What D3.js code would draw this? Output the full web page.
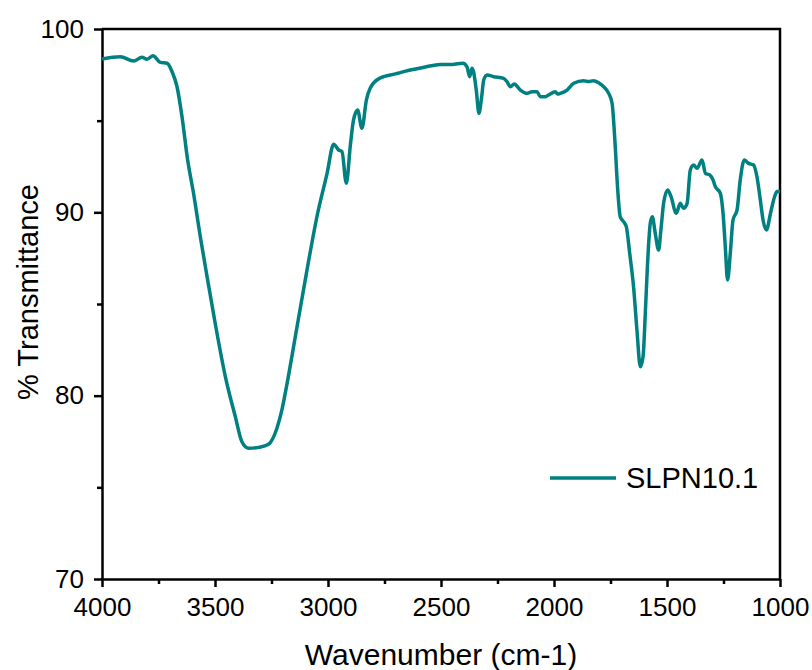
<!DOCTYPE html>
<html>
<head>
    <meta charset="utf-8" />
    <title>% Transmittance vs Wavenumber</title>
    <script src="https://d3js.org/d3.v7.min.js"></script>
    <style>
        body { margin: 0; background: #fff; }
        svg text { font-family: "Liberation Sans", Arial, sans-serif; fill: #000; }
        .axis path, .axis line { stroke: #000; stroke-width: 2.5; }
    </style>
</head>
<body>
    <div id="the-chart"></div>
    <script>
        // wavenumber (cm-1)
        var wavenumber = [4000, 3919, 3860, 3823, 3801, 3774, 3742, 3712, 3690, 3668, 3646, 3621, 3595, 3565, 3535, 3499, 3454, 3410, 3381, 3351, 3307, 3263, 3226, 3204, 3181, 3137, 3093, 3049, 3004, 2975, 2953, 2938, 2919, 2901, 2887, 2869, 2850, 2830, 2813, 2769, 2702, 2636, 2569, 2503, 2451, 2403, 2385, 2373, 2363, 2356, 2344, 2332, 2320, 2311, 2296, 2267, 2223, 2208, 2193, 2176, 2149, 2119, 2097, 2075, 2061, 2038, 2024, 1994, 1984, 1972, 1942, 1913, 1869, 1847, 1825, 1803, 1780, 1758, 1743, 1729, 1719, 1707, 1692, 1680, 1665, 1648, 1633, 1618, 1606, 1596, 1586, 1574, 1565, 1552, 1537, 1527, 1515, 1497, 1482, 1459, 1441, 1427, 1411, 1397, 1382, 1367, 1345, 1330, 1311, 1296, 1286, 1264, 1252, 1242, 1232, 1220, 1208, 1190, 1176, 1158, 1139, 1117, 1102, 1087, 1075, 1060, 1042, 1024, 1013, 1000];
        var transmittance = [98.36, 98.49, 98.25, 98.46, 98.35, 98.54, 98.18, 98.13, 97.67, 96.85, 95.22, 92.85, 91.04, 88.67, 86.49, 83.94, 81.03, 78.85, 77.49, 77.13, 77.18, 77.35, 78.22, 79.22, 80.67, 83.76, 86.85, 89.76, 92.13, 93.71, 93.40, 93.31, 91.58, 93.67, 95.04, 95.58, 94.58, 96.13, 96.78, 97.33, 97.55, 97.76, 97.93, 98.07, 98.07, 98.13, 97.94, 97.40, 97.86, 97.67, 96.67, 95.40, 96.31, 97.22, 97.49, 97.40, 97.31, 97.13, 96.85, 97.00, 96.67, 96.49, 96.58, 96.58, 96.31, 96.31, 96.40, 96.58, 96.45, 96.49, 96.67, 97.04, 97.18, 97.13, 97.18, 97.07, 96.85, 96.49, 95.95, 93.58, 91.40, 89.76, 89.49, 89.22, 87.76, 85.94, 83.58, 81.58, 82.12, 84.49, 87.22, 89.40, 89.76, 88.85, 87.94, 89.04, 90.49, 91.22, 90.85, 89.95, 90.49, 90.22, 90.49, 92.31, 92.58, 92.40, 92.85, 92.13, 92.04, 91.76, 91.40, 91.04, 89.95, 88.12, 86.31, 87.76, 89.58, 90.13, 91.76, 92.85, 92.67, 92.58, 91.94, 90.67, 89.58, 89.04, 89.95, 90.85, 91.13, 91.13];

        var series_name = "SLPN10.1";
        var x_ticks = [4000, 3500, 3000, 2500, 2000, 1500, 1000],
            x_minor = [3750, 3250, 2750, 2250, 1750, 1250],
            y_ticks = [70, 80, 90, 100],
            y_minor = [75, 85, 95];

        var data = wavenumber.map(function (w, i) { return { x: w, y: transmittance[i] }; });

        var svg = d3.select("#the-chart").append("svg")
            .attr("width", 812)
            .attr("height", 670),
            margin = { top: 29, right: 32, bottom: 91, left: 102 },
            width = +svg.attr("width") - margin.left - margin.right,
            height = +svg.attr("height") - margin.top - margin.bottom;

        var g = svg.append("g")
            .attr("transform", "translate(" + margin.left + "," + margin.top + ")");

        var x = d3.scaleLinear().domain([4000, 1000]).range([0, width]),
            y = d3.scaleLinear().domain([70, 100]).range([height, 0]);

        // minor ticks
        g.append("g")
            .attr("class", "axis")
            .attr("transform", "translate(0," + height + ")")
            .call(d3.axisBottom(x).tickValues(x_minor).tickSize(5).tickFormat(""))
            .select(".domain").remove();
        g.append("g")
            .attr("class", "axis")
            .call(d3.axisLeft(y).tickValues(y_minor).tickSize(5).tickFormat(""))
            .select(".domain").remove();

        // major ticks
        g.append("g")
            .attr("class", "axis axis--x")
            .attr("transform", "translate(0," + height + ")")
            .call(d3.axisBottom(x).tickValues(x_ticks).tickFormat(d3.format("d")).tickSize(8).tickPadding(11).tickSizeOuter(0))
            .selectAll("text")
            .style("font-size", "26px");

        g.append("g")
            .attr("class", "axis axis--y")
            .call(d3.axisLeft(y).tickValues(y_ticks).tickFormat(d3.format("d")).tickSize(8).tickPadding(10).tickSizeOuter(0))
            .selectAll("text")
            .style("font-size", "26px");

        g.selectAll(".axis text").attr("fill", "#000");

        // frame on top and right
        g.append("path")
            .attr("d", "M0,0H" + width + "V" + height)
            .attr("fill", "none")
            .attr("stroke", "#000")
            .attr("stroke-width", 2.5);

        var line = d3.line()
            .x(function (d) { return x(d.x); })
            .y(function (d) { return y(d.y); })
            .curve(d3.curveMonotoneX);

        g.append("path")
            .datum(data)
            .attr("fill", "none")
            .attr("stroke", "#008080")
            .attr("stroke-width", 3.5)
            .attr("stroke-linejoin", "round")
            .attr("d", line);

        // legend
        var legend = g.append("g")
            .attr("transform", "translate(" + (550 - margin.left) + "," + (478 - margin.top) + ")");
        legend.append("line")
            .attr("x1", 0).attr("x2", 66)
            .attr("stroke", "#008080")
            .attr("stroke-width", 3.5);
        legend.append("text")
            .attr("x", 76)
            .attr("y", 10)
            .style("font-size", "29px")
            .text(series_name);

        // axis titles
        svg.append("text")
            .attr("x", margin.left + width / 2)
            .attr("y", 665)
            .attr("text-anchor", "middle")
            .style("font-size", "30px")
            .text("Wavenumber (cm-1)");

        svg.append("text")
            .attr("transform", "translate(38,292) rotate(-90)")
            .attr("text-anchor", "middle")
            .style("font-size", "29px")
            .text("% Transmittance");
    </script>
</body>
</html>
